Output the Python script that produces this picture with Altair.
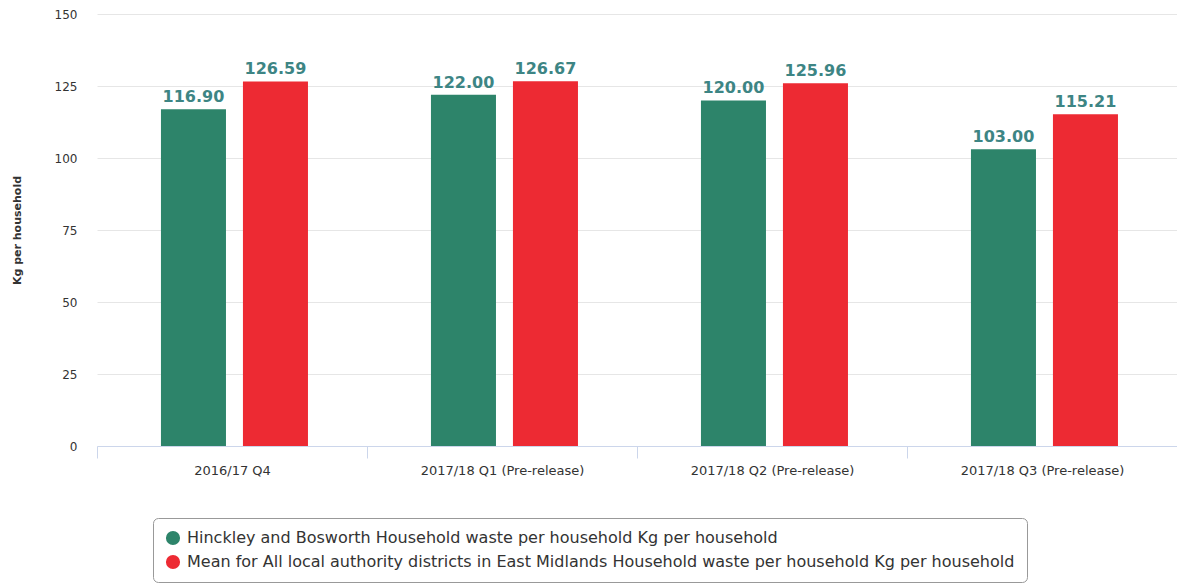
import altair as alt
import pandas as pd

categories = ["2016/17 Q4", "2017/18 Q1 (Pre-release)", "2017/18 Q2 (Pre-release)", "2017/18 Q3 (Pre-release)"]
series = [
    "Hinckley and Bosworth Household waste per household Kg per household",
    "Mean for All local authority districts in East Midlands Household waste per household Kg per household",
]
hinckley = [116.90, 122.00, 120.00, 103.00]
east_mid = [126.59, 126.67, 125.96, 115.21]
colors = ["#2d846a", "#ed2a33"]
y_ticks = [0, 25, 50, 75, 100, 125, 150]

rows = []
for i, c in enumerate(categories):
    rows.append({"quarter": c, "series": series[0], "value": hinckley[i]})
    rows.append({"quarter": c, "series": series[1], "value": east_mid[i]})
df = pd.DataFrame(rows)

FONT = "DejaVu Sans"

x_enc = alt.X(
    "quarter:N", sort=categories,
    scale=alt.Scale(paddingInner=0, paddingOuter=0),
    axis=alt.Axis(title=None, labelAngle=0, domainColor="#ccd6eb", tickColor="#ccd6eb",
                  tickSize=12, tickBand="extent", labelPadding=6, labelFontSize=13,
                  labelColor="#333333", labelFont=FONT, grid=False),
)
xoff = alt.XOffset("series:N", sort=series,
                   scale=alt.Scale(paddingInner=0.207, paddingOuter=0.75, align=0.52))
y_enc = alt.Y(
    "value:Q", scale=alt.Scale(domain=[0, 150], nice=False),
    axis=alt.Axis(values=y_ticks, grid=True, gridColor="#e6e6e6", domain=False, ticks=False,
                  labelPadding=20, labelFontSize=12, labelColor="#333333", labelFont=FONT,
                  title="Kg per household", titleFontSize=11, titleFont=FONT,
                  titleColor="#333333", titleFontWeight="bold", titleX=-80, titleY=216,
                  titleAlign="center", titleBaseline="middle"),
)

bars = alt.Chart(df).mark_bar().encode(
    x=x_enc, xOffset=xoff, y=y_enc,
    color=alt.Color("series:N", sort=series,
                    scale=alt.Scale(domain=series, range=colors),
                    legend=alt.Legend(title=None, orient="none", legendX=56, legendY=504,
                                      strokeColor="#999999", cornerRadius=5, padding=12,
                                      fillColor="white", symbolType="circle", symbolSize=200,
                                      symbolStrokeWidth=0, labelFontSize=16, labelFont=FONT,
                                      labelColor="#333333", labelLimit=1200, rowPadding=8,
                                      labelOffset=6)),
)
labels = alt.Chart(df).mark_text(dy=-12, fontSize=16, fontWeight="bold", color="#3d8584",
                                 font=FONT).encode(
    x=alt.X("quarter:N", sort=categories), xOffset=alt.XOffset("series:N", sort=series),
    y="value:Q", text=alt.Text("value:Q", format=".2f"),
)

chart = (bars + labels).properties(
    width=1080, height=432,
    autosize=alt.AutoSizeParams(type="none"),
    padding={"left": 97, "top": 14, "right": 0, "bottom": 142},
).configure_view(stroke=None)

chart.save("out.html", embed_options={"renderer": "svg", "actions": False})
